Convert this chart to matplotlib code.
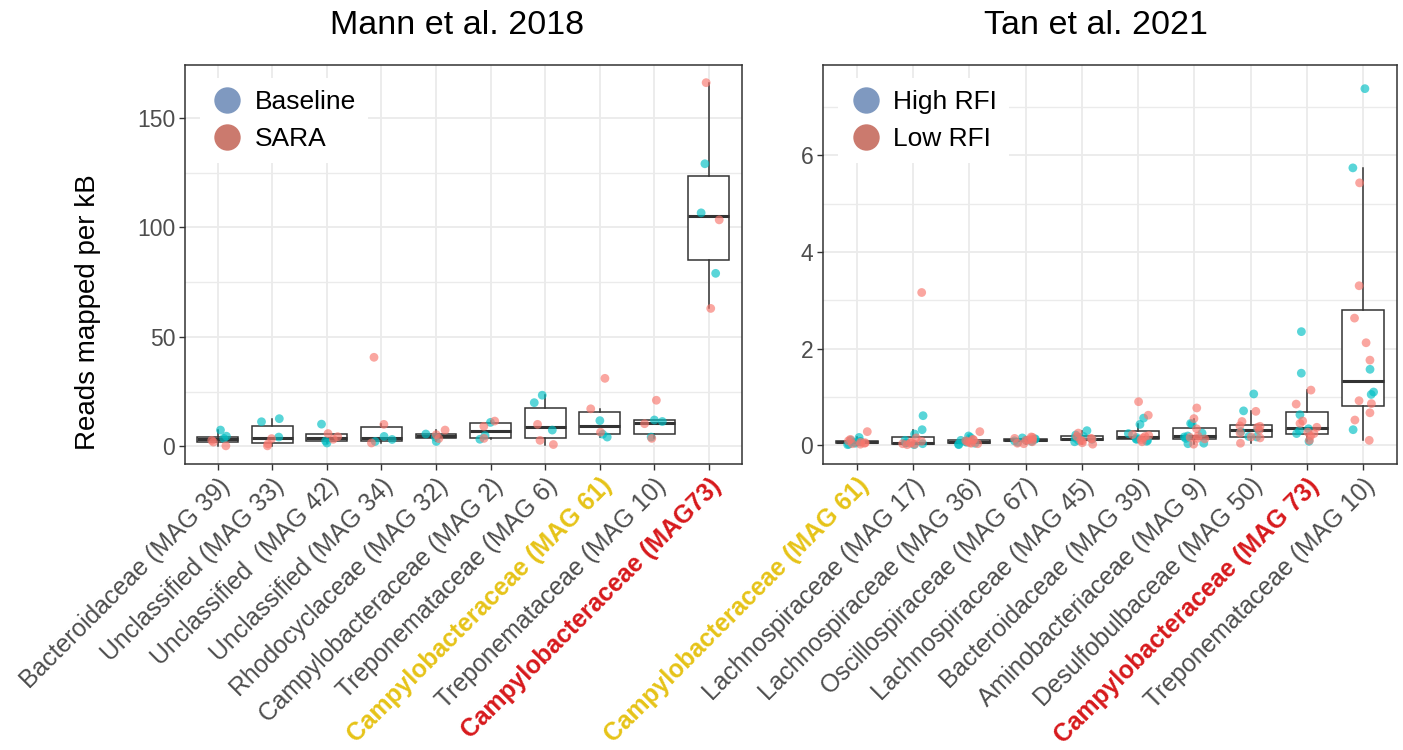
import numpy as np
import matplotlib
matplotlib.use("Agg")
import matplotlib.pyplot as plt
from matplotlib.lines import Line2D

plt.rcParams["font.family"] = ["Liberation Sans", "DejaVu Sans"]

# Mann et al. 2018 -- reads mapped per kB, per MAG
mann_labels = [
    "Bacteroidaceae (MAG 39)",
    "Unclassified (MAG 33)",
    "Unclassified  (MAG 42)",
    "Unclassified (MAG 34)",
    "Rhodocyclaceae (MAG 32)",
    "Campylobacteraceae (MAG 2)",
    "Treponemataceae (MAG 6)",
    "Campylobacteraceae (MAG 61)",
    "Treponemataceae (MAG 10)",
    "Campylobacteraceae (MAG73)",
]
mann_baseline = [
    [7.5, 4.7, 3.7],
    [11.3, 12.7, 4.3],
    [10.2, 2.5, 1.6],
    [4.6, 3.2, 2.3],
    [5.7, 2.3, 4.3],
    [11.0, 5.0, 3.3],
    [23.4, 20.0, 7.5],
    [11.8, 4.3, 5.6],
    [12.1, 11.4, 4.3],
    [129.0, 106.6, 79.0],
]
mann_sara = [
    [2.8, 2.0, 0.3],
    [3.6, 1.2, 0.3],
    [5.9, 4.5, 3.3],
    [40.7, 10.1, 1.6],
    [7.5, 3.6, 5.4],
    [9.2, 11.6, 3.7],
    [10.1, 2.8, 0.9],
    [31.1, 17.2, 6.5],
    [21.1, 10.4, 3.7],
    [166.0, 103.4, 63.0],
]

# Tan et al. 2021
tan_labels = [
    "Campylobacteraceae (MAG 61)",
    "Lachnospiraceae (MAG 17)",
    "Lachnospiraceae (MAG 36)",
    "Oscillospiraceae (MAG 67)",
    "Lachnospiraceae (MAG 45)",
    "Bacteroidaceae (MAG 39)",
    "Aminobacteriaceae (MAG 9)",
    "Desulfobulbaceae (MAG 50)",
    "Campylobacteraceae (MAG 73)",
    "Treponemataceae (MAG 10)",
]
tan_high = [
    [0.16, 0.08, 0.07, 0.02, 0.04, 0.10, 0.06, 0.01],
    [0.61, 0.32, 0.23, 0.10, 0.05, 0.03, 0.01, 0.045],
    [0.19, 0.16, 0.08, 0.04, 0.02, 0.06, 0.01, 0.10],
    [0.15, 0.10, 0.08, 0.12, 0.06, 0.13, 0.09],
    [0.30, 0.21, 0.15, 0.16, 0.07, 0.10, 0.12, 0.18],
    [0.56, 0.43, 0.16, 0.08, 0.13, 0.10, 0.24, 0.12],
    [0.45, 0.44, 0.19, 0.17, 0.03, 0.04, 0.25, 0.14],
    [1.06, 0.71, 0.28, 0.18, 0.17, 0.33],
    [2.35, 1.49, 0.63, 0.34, 0.24, 0.08, 0.30],
    [7.38, 5.74, 1.57, 1.10, 1.05, 0.32],
]
tan_low = [
    [0.28, 0.12, 0.06, 0.03, 0.05, 0.02, 0.09, 0.04],
    [3.16, 0.15, 0.02, 0.04, 0.06, 0.01, 0.03, 0.08],
    [0.28, 0.12, 0.07, 0.05, 0.03, 0.09, 0.04, 0.11],
    [0.17, 0.16, 0.04, 0.03, 0.12, 0.14, 0.11, 0.07, 0.10],
    [0.25, 0.18, 0.13, 0.10, 0.02, 0.09, 0.05, 0.14],
    [0.90, 0.62, 0.22, 0.18, 0.07, 0.15, 0.11, 0.20],
    [0.77, 0.55, 0.34, 0.19, 0.16, 0.13, 0.02, 0.14],
    [0.70, 0.49, 0.39, 0.37, 0.31, 0.17, 0.15, 0.04, 0.25, 0.40],
    [1.14, 0.85, 0.50, 0.37, 0.27, 0.24, 0.19, 0.10, 0.45],
    [5.43, 3.30, 2.63, 2.12, 1.76, 0.92, 0.86, 0.67, 0.52, 0.10],
]

TEAL = "#00BFC4"
SALMON = "#F8766D"
GOLD = "#E6C317"
RED = "#D7191C"
GRID = "#EBEBEB"
DARK = "#333333"

rng = np.random.default_rng(7)

fig = plt.figure(figsize=(14.03, 7.5), dpi=100, facecolor="white")
W, H = 1403, 750


def panel(rect_px, labels, grp_a, grp_b, title, title_x, leg_labels,
          leg_colors, major, minor, highlight, ylim=None):
    x0, y0, x1, y1 = rect_px
    ax = fig.add_axes([x0 / W, 1 - y1 / H, (x1 - x0) / W, (y1 - y0) / H])
    pos = np.arange(1, len(labels) + 1)

    allvals = [np.array(a + b) for a, b in zip(grp_a, grp_b)]
    ax.boxplot(
        allvals, positions=pos, widths=0.75, showfliers=False, showcaps=False,
        patch_artist=True, whis=1.5,
        boxprops=dict(facecolor="white", edgecolor=DARK, linewidth=1.1),
        whiskerprops=dict(color=DARK, linewidth=1.1),
        medianprops=dict(color=DARK, linewidth=2.2),
        zorder=2,
    )

    # jittered points on top of the boxes
    for i, (a, b) in enumerate(zip(grp_a, grp_b)):
        vals = np.array(a + b)
        cols = [TEAL] * len(a) + [SALMON] * len(b)
        xs = pos[i] + rng.uniform(-0.2, 0.2, len(vals))
        ax.scatter(xs, vals, s=40, c=cols, alpha=0.65, linewidths=0, zorder=3)

    if ylim is None:
        flat = np.concatenate(allvals)
        lo, hi = flat.min(), flat.max()
        pad = 0.05 * (hi - lo)
        ylim = (lo - pad, hi + pad)
    ax.set_ylim(*ylim)
    ax.set_xlim(0.4, len(labels) + 0.6)

    ax.set_yticks(major)
    ax.set_yticks(minor, minor=True)
    ax.set_xticks(pos)
    ax.set_axisbelow(True)
    ax.grid(True, which="major", color=GRID, linewidth=1.3)
    ax.grid(True, which="minor", axis="y", color=GRID, linewidth=1.0)
    ax.tick_params(axis="both", which="major", length=4, width=1.0,
                   color=DARK, labelcolor="#4D4D4D", labelsize=16.5, pad=3)
    ax.tick_params(axis="y", which="minor", length=0)
    ax.set_yticklabels([f"{v:g}" for v in major])
    ax.set_xticklabels(labels, rotation=45, ha="right", va="top",
                       rotation_mode="anchor", fontsize=17.8)
    for i, lab in enumerate(ax.get_xticklabels()):
        if i in highlight:
            lab.set_color(highlight[i])
            lab.set_fontweight("bold")
    for s in ax.spines.values():
        s.set_color(DARK)
        s.set_linewidth(1.1)

    ax.set_title(title, fontsize=24.5, pad=22, x=title_x)

    handles = [Line2D([], [], marker="o", linestyle="", markersize=19,
                      markerfacecolor=c, markeredgewidth=0) for c in leg_colors]
    leg = ax.legend(handles, leg_labels, loc="upper left",
                    bbox_to_anchor=(0.012, 0.985), fontsize=19, frameon=True,
                    facecolor="white", edgecolor="none", framealpha=1,
                    handletextpad=0.45, labelspacing=0.5, borderpad=0.45,
                    handlelength=1.2, borderaxespad=0.3)
    leg.get_frame().set_boxstyle("square", pad=0)
    return ax


ax1 = panel((185, 64.5, 741.5, 464), mann_labels, mann_baseline, mann_sara,
            "Mann et al. 2018", 0.489, ["Baseline", "SARA"],
            ["#7F99C0", "#CB7A6E"], [0, 50, 100, 150], [25, 75, 125],
            {7: GOLD, 9: RED})

ax2 = panel((823, 64.5, 1397, 464), tan_labels, tan_high, tan_low,
            "Tan et al. 2021", 0.475, ["High RFI", "Low RFI"],
            ["#7F99C0", "#CB7A6E"], [0, 2, 4, 6], [1, 3, 5, 7],
            {0: GOLD, 8: RED}, ylim=(-0.39, 7.88))

fig.text(88 / W, 1 - 312 / H, "Reads mapped per kB", rotation=90,
         fontsize=20, ha="center", va="center")

fig.savefig("out.png", dpi=100, facecolor="white")
